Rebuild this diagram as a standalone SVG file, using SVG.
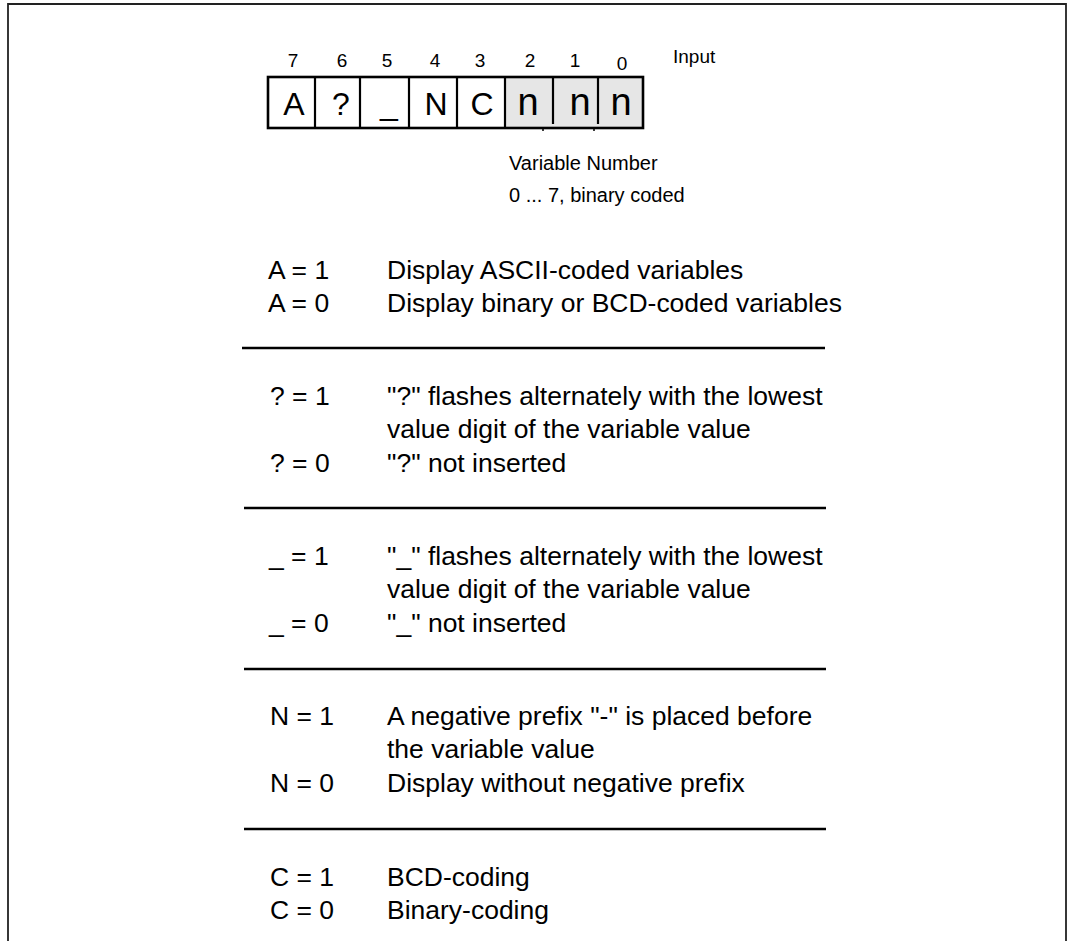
<svg xmlns="http://www.w3.org/2000/svg" width="1071" height="941" viewBox="0 0 1071 941">
<style>
  text { font-family: "Liberation Sans", Arial, sans-serif; fill: #000; }
  .bit { font-size: 19px; text-anchor: middle; }
  .small { font-size: 20px; }
  .cell { font-size: 32px; text-anchor: middle; }
  .celln { font-size: 38px; text-anchor: middle; }
  .body { font-size: 25px; }
  .sep { stroke: #000; stroke-width: 2.6; fill: none; }
  .frame { stroke: #222; stroke-width: 1.8; fill: none; }
  .box { stroke: #000; stroke-width: 2.6; fill: none; }
  .div { stroke: #000; stroke-width: 2.2; }
</style>
<rect x="0" y="0" width="1071" height="941" fill="#fff"/>
<path class="frame" d="M8 945 V4 H1066 V945"/>

<g id="register">
  <rect x="505" y="77" width="138" height="51" fill="#e6e6e6"/>
  <rect class="box" x="268" y="77" width="375" height="51"/>
  <line class="div" x1="315" y1="77" x2="315" y2="128"/>
  <line class="div" x1="360" y1="77" x2="360" y2="128"/>
  <line class="div" x1="409" y1="77" x2="409" y2="128"/>
  <line class="div" x1="457" y1="77" x2="457" y2="128"/>
  <line class="div" x1="505" y1="77" x2="505" y2="128"/>
  <line class="div" x1="553" y1="77" x2="553" y2="124"/>
  <line class="div" x1="598" y1="77" x2="598" y2="124"/>
  <line stroke="#000" stroke-width="1.5" x1="543" y1="127" x2="543" y2="131"/>
  <line stroke="#000" stroke-width="1.5" x1="594" y1="127" x2="594" y2="131"/>
  <text class="bit" x="293" y="67">7</text>
  <text class="bit" x="342" y="67">6</text>
  <text class="bit" x="387" y="67">5</text>
  <text class="bit" x="435" y="67">4</text>
  <text class="bit" x="480" y="67">3</text>
  <text class="bit" x="530" y="67">2</text>
  <text class="bit" x="575" y="67">1</text>
  <text class="bit" x="622" y="70">0</text>
  <text class="bit" x="673" y="63" style="text-anchor:start">Input</text>
  <text class="cell" x="294" y="115">A</text>
  <text class="cell" x="341" y="115">?</text>
  <text class="cell" x="389" y="115">_</text>
  <text class="cell" x="436" y="115">N</text>
  <text class="cell" x="482" y="115">C</text>
  <text class="celln" x="528" y="115">n</text>
  <text class="celln" x="580" y="115">n</text>
  <text class="celln" x="621" y="115">n</text>
  <text class="small" x="509" y="170">Variable Number</text>
  <text class="small" x="509" y="202">0 ... 7, binary coded</text>
</g>

<g id="connectors">
  <line class="sep" x1="242" y1="348" x2="825" y2="348"/>
  <line class="sep" x1="244" y1="508" x2="826" y2="508"/>
  <line class="sep" x1="244" y1="669" x2="826" y2="669"/>
  <line class="sep" x1="244" y1="829" x2="826" y2="829"/>
</g>

<g id="bitA">
  <text class="body" transform="translate(268 279) scale(1.06 1)">A = 1</text>
  <text class="body" transform="translate(387 279) scale(1.06 1)">Display ASCII-coded variables</text>
  <text class="body" transform="translate(268 312) scale(1.06 1)">A = 0</text>
  <text class="body" transform="translate(387 312) scale(1.06 1)">Display binary or BCD-coded variables</text>
</g>

<g id="bitQ">
  <text class="body" transform="translate(270 405) scale(1.06 1)">? = 1</text>
  <text class="body" transform="translate(387 405) scale(1.06 1)">"?" flashes alternately with the lowest</text>
  <text class="body" transform="translate(387 438) scale(1.06 1)">value digit of the variable value</text>
  <text class="body" transform="translate(270 472) scale(1.06 1)">? = 0</text>
  <text class="body" transform="translate(387 472) scale(1.06 1)">"?" not inserted</text>
</g>

<g id="bitU">
  <text class="body" transform="translate(269 565) scale(1.06 1)">_ = 1</text>
  <text class="body" transform="translate(387 565) scale(1.06 1)">"_" flashes alternately with the lowest</text>
  <text class="body" transform="translate(387 598) scale(1.06 1)">value digit of the variable value</text>
  <text class="body" transform="translate(269 632) scale(1.06 1)">_ = 0</text>
  <text class="body" transform="translate(387 632) scale(1.06 1)">"_" not inserted</text>
</g>

<g id="bitN">
  <text class="body" transform="translate(270 725) scale(1.06 1)">N = 1</text>
  <text class="body" transform="translate(387 725) scale(1.06 1)">A negative prefix "-" is placed before</text>
  <text class="body" transform="translate(387 758) scale(1.06 1)">the variable value</text>
  <text class="body" transform="translate(270 792) scale(1.06 1)">N = 0</text>
  <text class="body" transform="translate(387 792) scale(1.06 1)">Display without negative prefix</text>
</g>

<g id="bitC">
  <text class="body" transform="translate(270 886) scale(1.06 1)">C = 1</text>
  <text class="body" transform="translate(387 886) scale(1.06 1)">BCD-coding</text>
  <text class="body" transform="translate(270 919) scale(1.06 1)">C = 0</text>
  <text class="body" transform="translate(387 919) scale(1.06 1)">Binary-coding</text>
</g>
</svg>
